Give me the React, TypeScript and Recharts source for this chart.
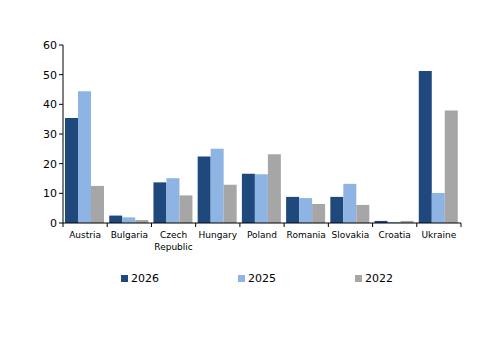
import { BarChart, Bar, XAxis, YAxis } from "recharts";

const countries = ["Austria", "Bulgaria", "Czech Republic", "Hungary", "Poland", "Romania", "Slovakia", "Croatia", "Ukraine"];
const y2026 = [35.4, 2.5, 13.7, 22.4, 16.6, 8.8, 8.8, 0.7, 51.2];
const y2025 = [44.4, 1.9, 15.1, 25.0, 16.4, 8.4, 13.2, 0.3, 10.1];
const y2022 = [12.5, 1.0, 9.3, 12.9, 23.2, 6.4, 6.1, 0.7, 37.9];
const yTicks = [0, 10, 20, 30, 40, 50, 60];

const data = countries.map((c, i) => ({
  country: c,
  y2026: y2026[i],
  y2025: y2025[i],
  y2022: y2022[i],
}));

const series = [
  { key: "y2026", name: "2026", color: "#1F497D" },
  { key: "y2025", name: "2025", color: "#8DB4E2" },
  { key: "y2022", name: "2022", color: "#A6A6A6" },
];

const FONT = "'DejaVu Sans', Verdana, sans-serif";

function CountryTick(props: any) {
  const { x, y, payload, index, visibleTicksCount } = props;
  const band = 44.2;
  const words = String(payload.value) === "Czech Republic" ? ["Czech", "Republic"] : [String(payload.value)];
  return (
    <g>
      <line x1={x - band / 2} y1={y} x2={x - band / 2} y2={y + 4} stroke="#000" />
      {index === visibleTicksCount - 1 && (
        <line x1={x + band / 2} y1={y} x2={x + band / 2} y2={y + 4} stroke="#000" />
      )}
      {words.map((w, i) => (
        <text key={w} x={x} y={y + 15 + i * 12} textAnchor="middle" fontSize={9} fontFamily={FONT} fill="#000">
          {w}
        </text>
      ))}
    </g>
  );
}

export default function App() {
  return (
    <div style={{ position: "absolute", left: 0, top: 0, width: 500, height: 353, background: "#fff" }}>
      <BarChart
        width={500}
        height={353}
        data={data}
        margin={{ top: 45, right: 39, bottom: 100, left: 28 }}
        barCategoryGap={2}
        barGap={0}
      >
        <XAxis
          dataKey="country"
          axisLine={{ stroke: "#000" }}
          tickLine={false}
          tickSize={0}
          tickMargin={0}
          tick={<CountryTick />}
          interval={0}
          height={30}
        />
        <YAxis
          domain={[0, 60]}
          ticks={yTicks}
          width={35}
          axisLine={{ stroke: "#000" }}
          tickLine={{ stroke: "#000" }}
          tickSize={4}
          tick={{ fontSize: 11, fontFamily: FONT, fill: "#000" }}
        />
        {series.map((s) => (
          <Bar key={s.key} dataKey={s.key} name={s.name} fill={s.color} isAnimationActive={false} />
        ))}
      </BarChart>
      <div style={{ position: "absolute", left: 0, top: 272, width: 500, height: 20, fontFamily: FONT, fontSize: 11 }}>
        {series.map((s, i) => (
          <div key={s.key} style={{ position: "absolute", left: 121 + i * 117, top: 0, display: "flex", alignItems: "center" }}>
            <span style={{ width: 7, height: 7, background: s.color, display: "inline-block", marginRight: 3 }} />
            <span>{s.name}</span>
          </div>
        ))}
      </div>
    </div>
  );
}
